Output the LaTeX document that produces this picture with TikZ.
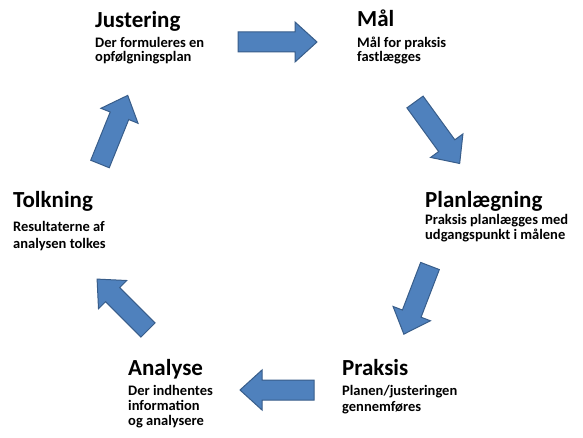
\documentclass[tikz,border=0pt]{standalone}
\usepackage{fontspec}
\setmainfont{Carlito}
\definecolor{arrowfill}{HTML}{4F81BD}
\definecolor{arrowline}{HTML}{385D8A}
\tikzset{
  ttl/.style={anchor=base west, inner sep=0pt, font=\fontsize{23}{26}\selectfont\bfseries},
  sub/.style={anchor=base west, inner sep=0pt, align=left, font=\fontsize{14.5}{#1}\selectfont\bfseries},
  sub/.default=14,
  blockarrow/.style={fill=arrowfill, draw=arrowline, line width=1pt, line join=miter}
}
\newcommand{\barrow}[4]{%
  \begin{scope}[shift={(#1,#2)}, rotate=#3]
    \draw[blockarrow] (0,-10) -- ({#4-22},-10) -- ({#4-22},-20) -- (#4,0) -- ({#4-22},20) -- ({#4-22},10) -- (0,10) -- cycle;
  \end{scope}}
\begin{document}
\begin{tikzpicture}[x=1pt,y=-1pt]
  \useasboundingbox[fill=white] (0,0) rectangle (583,438);
  % texts (sub-text nodes are placed at the baseline of their last line)
  \node[ttl] (jt) at (95,28) {Justering};
  \node[sub] (js) at (95,62) {Der formuleres en\\opfølgningsplan};
  \node[ttl] (mt) at (357,27) {Mål};
  \node[sub] (ms) at (357,62) {Mål for praksis\\fastlægges};
  \node[ttl] (pt) at (425,208) {Planlægning};
  \node[sub=15] (ps) at (425,240) {Praksis planlægges med\\udgangspunkt i målene};
  \node[ttl] (tt) at (13,208) {Tolkning};
  \node[sub=17] (ts) at (13,248) {Resultaterne af\\analysen tolkes};
  \node[ttl] (at) at (128,375) {Analyse};
  \node[sub=15] (as) at (128,425) {Der indhentes\\information\\og analysere};
  \node[ttl] (kt) at (342,375) {Praksis};
  \node[sub=16] (ks) at (342,411) {Planen/justeringen\\gennemføres};
  % arrows
  \barrow{238}{42}{0}{79}
  \barrow{415}{102}{-54}{76}
  \barrow{430}{266}{-111}{73}
  \barrow{314}{390}{180}{74}
  \barrow{148}{330}{135}{72}
  \barrow{100}{164}{68}{74}
\end{tikzpicture}
\end{document}
